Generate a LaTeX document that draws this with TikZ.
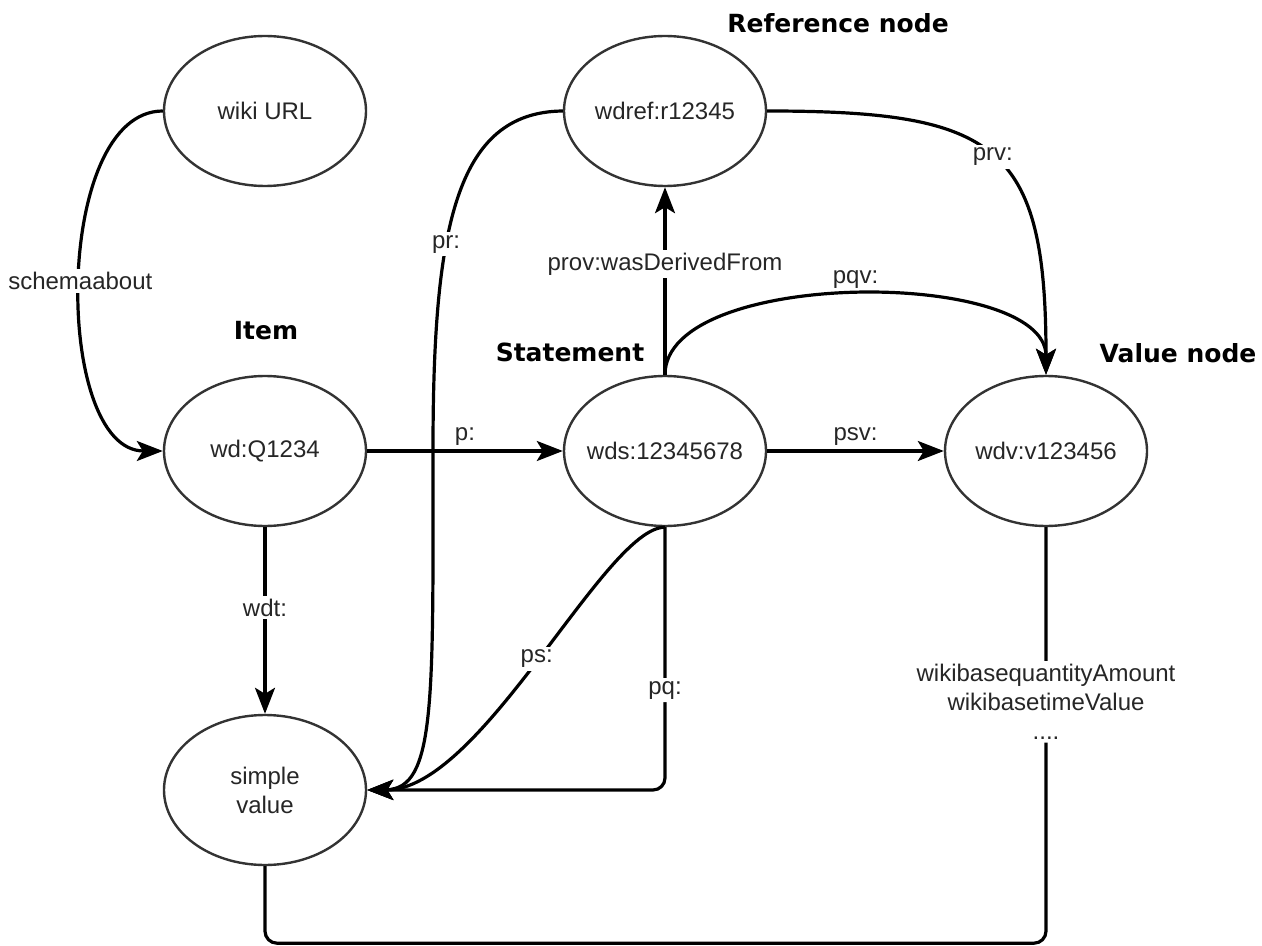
\documentclass[tikz,border=0pt]{standalone}
\usepackage{fontspec}
\setmainfont{Liberation Sans}
\newfontfamily\headfont{DejaVu Sans}
\usetikzlibrary{arrows.meta,shapes.geometric}

\begin{document}
\begin{tikzpicture}[x=0.5pt,y=-0.5pt,
  every node/.style={font=\fontsize{12}{14.5}\selectfont, text=black!85},
  entity/.style={ellipse, draw=black!80, line width=1.2pt, minimum width=101pt, minimum height=75pt, inner xsep=-16pt, inner ysep=0pt, align=center},
  heading/.style={font=\headfont\bfseries\fontsize{12.5}{15}\selectfont, text=black},
  link/.style={line width=1.6pt, -{Stealth[length=13pt,width=10pt,inset=3pt]}},
  wire/.style={line width=1.6pt, rounded corners=6pt},
  lbl/.style={fill=white, inner sep=1.5pt, align=center},
  toplbl/.style={above=1pt, inner sep=1pt}
]

\def\width{1262}
\def\height{946}
\path [use as bounding box] (0,0) rectangle (\width,\height);

% NODES
\node [entity] (wiki) at (265,111) {wiki URL};
\node [entity] (ref) at (665,111) {wdref:r12345};
\node [entity] (item) at (265,451) {wd:Q1234};
\node [entity] (stmt) at (665,451) {wds:12345678};
\node [entity] (val) at (1046,451) {wdv:v123456};
\node [entity] (simple) at (265,790) {simple\\value};

% HEADINGS
\node [heading] (refhead) at (838,23) {Reference node};
\node [heading] (itemhead) at (266,331) {Item};
\node [heading] (stmthead) at (570,352) {Statement};
\node [heading] (valhead) at (1178,353) {Value node};

% ITEM
\draw [link] (wiki.west) .. controls +(-110,0) and +(-110,0) .. node[lbl] {schemaabout} (item.west);
\draw [link] (item.east) -- node[toplbl] {p:} (stmt.west);
\draw [link] (item.south) -- node[lbl, pos=0.43] {wdt:} (simple.north);

% STATEMENT
\draw [link] (stmt.east) -- node[toplbl] {psv:} (val.west);
\draw [link] (stmt.north) -- node[lbl, pos=0.59] {prov:wasDerivedFrom} (ref.south);
\draw [link] (stmt.north) .. controls +(0,-107) and +(0,-107) .. node[toplbl] {pqv:} (val.north);
\draw [link] (stmt.south) .. controls +(-60,0) and +(115,0) .. node[lbl] {ps:} (simple.east);
\draw [link, rounded corners=6pt] (stmt.south) -- node[lbl, pos=0.62] {pq:} (stmt.south |- simple.east) -- (simple.east);

% REFERENCE
\draw [link] (ref.east) .. controls +(230,0) and +(0,-230) .. node[lbl] {prv:} (val.north);
\draw [link] (ref.west) .. controls (455,112) and (433,230) .. node[lbl, pos=0.62] {pr:} (433,450) .. controls (433,700) and (436,789) .. (simple.east);

% VALUE
\draw [wire] (val.south) -- node[lbl, pos=0.42] {wikibasequantityAmount\\wikibasetimeValue\\....} ++(0,416) -| (simple.south);

\end{tikzpicture}
\end{document}
